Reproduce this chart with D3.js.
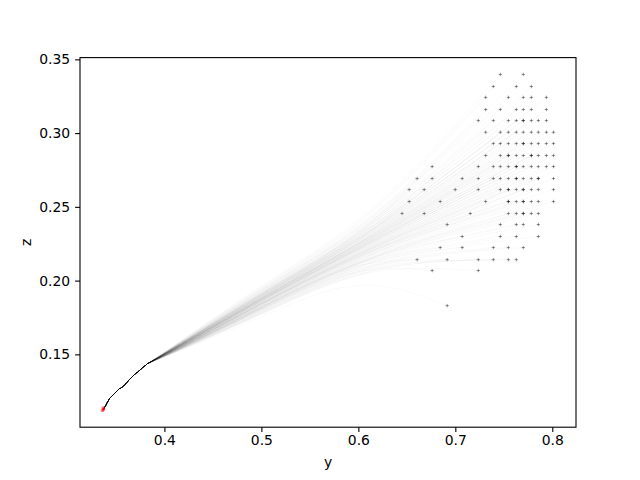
<!DOCTYPE html>
<html><head><meta charset="utf-8">
<script src="https://cdn.jsdelivr.net/npm/d3@7"></script>
<style>body{margin:0;background:#fff}svg{display:block}text{font-family:"DejaVu Sans",sans-serif;}</style>
</head><body>
<svg id="c" width="640" height="480"></svg>
<script>
// ---- data ----
const startY = [0.3362, 0.3373, 0.3369];
const startZ = [0.1120, 0.1127, 0.1136];
const trunkY = [0.3373,0.3432,0.3483,0.3535,0.3559,0.3604,0.3638,0.3683,0.3724,0.3776,0.3827];
const trunkZ = [0.1127,0.1199,0.1233,0.1267,0.1274,0.1301,0.1328,0.1358,0.1380,0.1410,0.1437];
const guideY = [0.43, 0.50, 0.60];
const guideZ = [0.161, 0.188, 0.222];
const gridY = [0.6451,0.6524,0.6606,0.6679,0.6761,0.6844,0.6916,0.6999,0.7071,0.7154,0.7237,0.7313,0.7392,0.7464,0.7547,0.7629,0.7701,0.7784,0.7856,0.7939,0.8012];
const gridZ = [0.3398,0.3316,0.3242,0.3160,0.3085,0.3006,0.2929,0.2848,0.2773,0.2692,0.2617,0.2536,0.2455,0.2380,0.2299,0.2224,0.2142,0.2068,0.1830];
const rowCols = [
 [13,16],
 [12,15,17],
 [11,14,16,17,19],
 [11,13,15,16,17,19],
 [10,12,14,15,16,16,17,18,19],
 [11,13,14,15,16,17,18,19,20],
 [12,13,14,15,16,16,17,18,19,20],
 [11,13,14,14,15,16,17,17,18,19,20],
 [4,10,12,13,14,15,15,16,17,18,19,20],
 [2,4,8,10,12,13,14,15,15,16,17,18,18,20],
 [1,3,7,10,13,14,14,15,16,16,17,18,20],
 [1,5,11,14,14,15,16,16,17,18,20],
 [0,3,9,14,15,16,16,17,18],
 [6,13,15,16,18],
 [8,13,15,18],
 [5,8,12,14,16],
 [2,6,10,12,14,15],
 [4,10],
 [6]
];
const xTicks = [0.4,0.5,0.6,0.7,0.8];
const zTicks = [0.15,0.20,0.25,0.30,0.35];

// ---- build ----
const ends = [];
rowCols.forEach((cols, r) => cols.forEach(c => ends.push([gridY[c], gridZ[r]])));
const trunk = trunkY.map((v,i)=>[v, trunkZ[i]]);
const guide = guideY.map((v,i)=>[v, guideZ[i]]);
const starts = startY.map((v,i)=>[v, startZ[i]]);

const allY = ends.map(d=>d[0]).concat(startY, trunkY);
const allZ = ends.map(d=>d[1]).concat(startZ, trunkZ);
const [y0,y1] = d3.extent(allY), [z0,z1] = d3.extent(allZ);
const my = (y1-y0)*0.05, mz = (z1-z0)*0.05;

const L=80, R=576, T=57.6, B=427.2;
const x = d3.scaleLinear().domain([y0-my, y1+my]).range([L,R]);
const y = d3.scaleLinear().domain([z0-mz, z1+mz]).range([B,T]);

const svg = d3.select("#c");
const g = svg.append("g");
g.append("defs").append("clipPath").attr("id","clip").append("rect")
 .attr("x",L).attr("y",T).attr("width",R-L).attr("height",B-T);
const plot = g.append("g").attr("clip-path","url(#clip)");

const lineLin = d3.line().x(d=>x(d[0])).y(d=>y(d[1]));
const lineFan = d3.line().x(d=>x(d[0])).y(d=>y(d[1])).curve(d3.curveBundle.beta(0.65));

ends.forEach(e => {
  const p = d3.path();
  lineLin.context(p)(trunk);
  lineFan.context(p)([trunk[trunk.length-1], ...guide, e]);
  plot.append("path").attr("d", p.toString())
    .attr("fill","none").attr("stroke","#000").attr("stroke-opacity",0.035).attr("stroke-width",0.7);
});

// end markers
const s = 1.7;
plot.append("g").selectAll("path").data(ends).join("path")
  .attr("d", d => `M${x(d[0])-s},${y(d[1])}h${2*s}M${x(d[0])},${y(d[1])-s}v${2*s}`)
  .attr("stroke","#000").attr("stroke-opacity",0.4).attr("stroke-width",1).attr("fill","none");

// start markers
plot.append("g").selectAll("circle").data(starts).join("circle")
  .attr("cx", d=>x(d[0])).attr("cy", d=>y(d[1])).attr("r",1.7)
  .attr("fill","red").attr("fill-opacity",0.6);

// axes
const fs = "13.9px";
const xa = g.append("g").attr("transform",`translate(0,${B})`)
  .call(d3.axisBottom(x).tickValues(xTicks).tickFormat(d3.format(".1f")).tickSize(4.9).tickPadding(3.2));
const ya = g.append("g").attr("transform",`translate(${L},0)`)
  .call(d3.axisLeft(y).tickValues(zTicks).tickFormat(d3.format(".2f")).tickSize(4.9).tickPadding(4.9));
[xa,ya].forEach(a=>{
  a.select(".domain").remove();
  a.selectAll("line").attr("stroke","#000").attr("stroke-width",1.1);
  a.selectAll("text").attr("font-size",fs).attr("font-family","DejaVu Sans").attr("fill","#000");
});
g.append("rect").attr("x",L).attr("y",T).attr("width",R-L).attr("height",B-T)
  .attr("fill","none").attr("stroke","#000").attr("stroke-width",1.1);

g.append("text").attr("x",(L+R)/2).attr("y",467).attr("text-anchor","middle").attr("font-size",fs).text("y");
g.append("text").attr("transform",`translate(31,${(T+B)/2}) rotate(-90)`).attr("text-anchor","middle").attr("font-size",fs).text("z");
</script>
</body></html>
